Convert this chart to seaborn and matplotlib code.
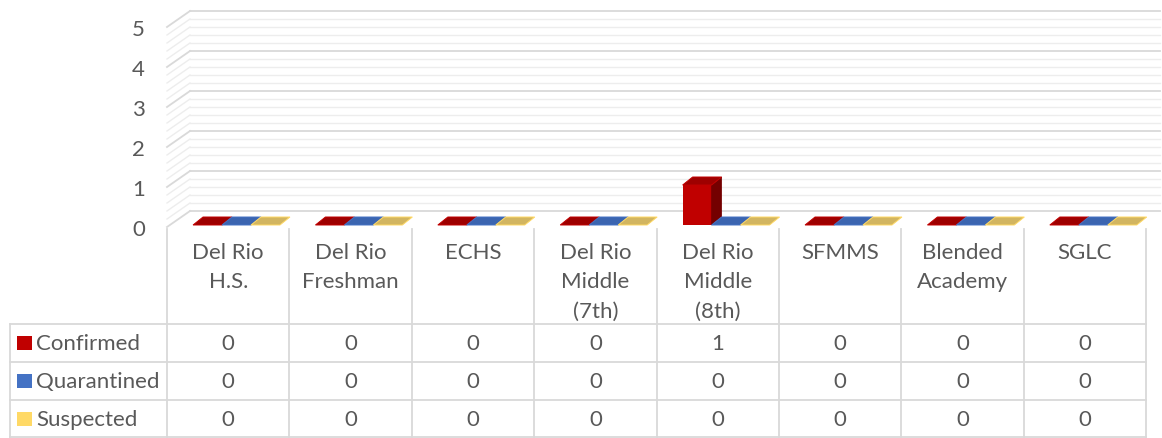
import numpy as np
import pandas as pd
import matplotlib.pyplot as plt
import seaborn as sns
from matplotlib.patches import Polygon, Rectangle

# ==============================
# data
# ==============================
schools = ["Del Rio\nH.S.", "Del Rio\nFreshman", "ECHS", "Del Rio\nMiddle\n(7th)",
           "Del Rio\nMiddle\n(8th)", "SFMMS", "Blended\nAcademy", "SGLC"]
series = ["Confirmed", "Quarantined", "Suspected"]
confirmed = [0, 0, 0, 0, 1, 0, 0, 0]
quarantined = [0, 0, 0, 0, 0, 0, 0, 0]
suspected = [0, 0, 0, 0, 0, 0, 0, 0]
y_ticks = [0, 1, 2, 3, 4, 5]

colors = {"Confirmed": "#C00000", "Quarantined": "#4472C4", "Suspected": "#FFD966"}
top_colors = {"Confirmed": "#9E0000", "Quarantined": "#3B65B0", "Suspected": "#D2B560"}
side_colors = {"Confirmed": "#740000", "Quarantined": "#2E4F8C", "Suspected": "#B89A45"}

df = pd.DataFrame({
    "school": schools * 3,
    "series": sum([[s] * len(schools) for s in series], []),
    "value": confirmed + quarantined + suspected,
})

# ==============================
# layout (pixel helpers)
# ==============================
CAT_PX = 122.4   # width of one category column
UNIT_PX = 40.0   # pixels per value unit
FS = 16
GREY = "#595959"
LINE = "#D9D9D9"
FONT = ["Lato", "DejaVu Sans"]


def xd(px):
    return -0.5 + (px - 167) / CAT_PX


def yd(py):
    return (228 - py) / UNIT_PX


DX, DY = 23 / CAT_PX, 16 / UNIT_PX          # wall depth
BAR_SX, BAR_SY = 8.3 / CAT_PX, 2 / UNIT_PX  # bar front offset
TOP_DX, TOP_DY = 10 / CAT_PX, 8 / UNIT_PX   # bar depth

fig = plt.figure(figsize=(11.62, 4.39), dpi=100)
ax = fig.add_axes([0, 0, 1, 1])

# ==============================
# back wall + side wall grid
# ==============================
for v in np.round(np.arange(0, 5.01, 0.2), 1):
    major = abs(v - round(v)) < 1e-6
    c = LINE if major else "#EDEDED"
    lw = 1.3 if major else 1.0
    ax.plot([-0.5 + DX, xd(1160)], [v + DY, v + DY], color=c, lw=lw, zorder=0)
    ax.plot([-0.5, -0.5 + DX], [v, v + DY], color=c, lw=lw, zorder=0)

for t in y_ticks:
    ax.text(xd(145), t - 0.04, str(t), ha="right", va="center", fontsize=FS,
            color=GREY, family=FONT)

# ==============================
# bars (front faces via seaborn, 3D faces added)
# ==============================
sns.barplot(data=df, x="school", y="value", hue="series", hue_order=series,
            palette=colors, saturation=1, width=0.71, linewidth=0, legend=False,
            ax=ax, zorder=3)

for cont, s in zip(ax.containers, series):
    for p in cont.patches:
        p.set_x(p.get_x() + BAR_SX)
        p.set_y(p.get_y() + BAR_SY)
        x0, y0 = p.get_x(), p.get_y()
        x1, y1 = x0 + p.get_width(), y0 + p.get_height()
        top = [(x0, y1), (x1, y1), (x1 + TOP_DX, y1 + TOP_DY), (x0 + TOP_DX, y1 + TOP_DY)]
        ax.add_patch(Polygon(top, closed=True, facecolor=top_colors[s],
                             edgecolor=colors[s], lw=0.7, zorder=4))
        if p.get_height() > 0:
            side = [(x1, y0), (x1 + TOP_DX, y0 + TOP_DY), (x1 + TOP_DX, y1 + TOP_DY), (x1, y1)]
            ax.add_patch(Polygon(side, closed=True, facecolor=side_colors[s],
                                 edgecolor=side_colors[s], lw=0.5, zorder=3))

# ==============================
# data table
# ==============================
n = len(schools)
for i in range(n + 1):
    ax.plot([-0.5 + i, -0.5 + i], [yd(230), yd(438)], color=LINE, lw=1.3, zorder=1)
ax.plot([xd(10), xd(10)], [yd(325), yd(438)], color=LINE, lw=1.3, zorder=1)
for py in [325, 363, 401, 438]:
    ax.plot([xd(10), n - 0.5], [yd(py), yd(py)], color=LINE, lw=1.3, zorder=1)

for i, name in enumerate(schools):
    ax.text(i, yd(243), name, ha="center", va="top", fontsize=FS, color=GREY,
            linespacing=1.58, family=FONT)

rows = [confirmed, quarantined, suspected]
row_py = [344, 382, 420]
for s, vals, py in zip(series, rows, row_py):
    ax.add_patch(Rectangle((xd(17), yd(py + 7)), 15 / CAT_PX, 14 / UNIT_PX,
                           facecolor=colors[s], edgecolor="none", zorder=2))
    ax.text(xd(36), yd(py), s, ha="left", va="center", fontsize=FS, color=GREY,
            family=FONT)
    for i, v in enumerate(vals):
        ax.text(i, yd(py), str(v), ha="center", va="center", fontsize=FS,
                color=GREY, family=FONT)

ax.set_xlim(xd(0), xd(1162))
ax.set_ylim(yd(439), yd(0))
ax.set_axis_off()

fig.savefig("out.png", dpi=100)
